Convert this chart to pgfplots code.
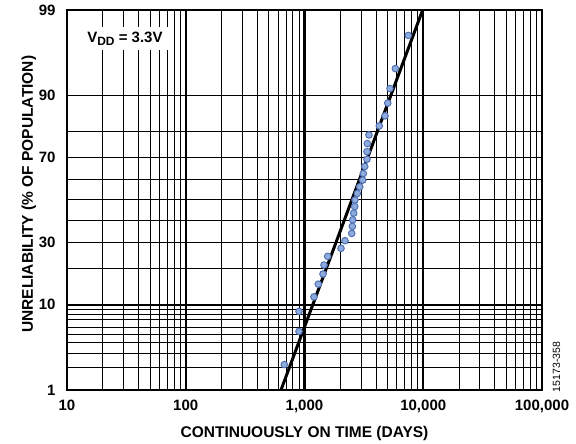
\documentclass[border=0pt]{standalone}
\usepackage{fontspec}
\setmainfont{Liberation Sans}
\usepackage{pgfplots}
\pgfplotsset{compat=1.18}
\usepackage{pgfplotstable}

\definecolor{mkfill}{RGB}{143,170,220}
\definecolor{mkdraw}{RGB}{79,114,180}

% time (days), unreliability (%)
\pgfplotstableread{
t F
676 2.2
899 5.4
899 8.6
1202 11.8
1306 15.0
1432 18.2
1460 21.3
1568 24.5
2029 27.7
2193 30.9
2498 34.1
2527 37.3
2547 40.4
2596 43.6
2648 46.8
2661 50.0
2786 53.2
2917 56.4
3090 59.6
3127 62.7
3214 65.9
3360 69.1
3360 72.3
3380 75.5
3491 78.7
4265 81.8
4764 85.0
5022 88.2
5248 91.4
5821 94.6
7482 97.8
}\datatable

\pgfplotstableread{
t F
634 1
9886 99
}\fittable

\begin{document}
\begin{tikzpicture}
\begin{axis}[
  scale only axis, width=475pt, height=380pt,
  xmode=log, xmin=10, xmax=100000,
  ymin=1, ymax=99,
  y coord trafo/.code={%
    \begingroup
    \pgfkeys{/pgf/fpu=false}%
    \pgfmathsetmacro\pp{#1/100}%
    \pgfmathsetmacro\qq{min(\pp,1-\pp)}%
    \pgfmathsetmacro\tt{sqrt(-2*ln(\qq))}%
    \pgfmathsetmacro\zz{\tt-(2.515517+0.802853*\tt+0.010328*\tt*\tt)/(1+1.432788*\tt+0.189269*\tt*\tt+0.001308*\tt*\tt*\tt)}%
    \pgfmathparse{\pp<0.5 ? -\zz : \zz}%
    \xdef\probitresult{\pgfmathresult}%
    \endgroup
    \let\pgfmathresult\probitresult
  },
  xtick={10,100,1000,10000,100000},
  xticklabels={10,100,{1,000},{10,000},{100,000}},
  ytick={1,10,30,70,90,99},
  yticklabels={1,10,30,70,90,99},
  minor ytick={2,3,4,5,6,7,8,9,20,40,50,60,80},
  grid=both,
  major tick length=0pt, minor tick length=0pt,
  major grid style={black, line width=1pt},
  minor grid style={black, line width=1pt},
  extra x ticks={100,1000,10000},
  extra x tick labels={},
  extra x tick style={grid=major, major grid style={black, line width=2.3pt}},
  extra y ticks={10},
  extra y tick labels={},
  extra y tick style={grid=major, major grid style={black, line width=2pt}},
  axis line style={black, line width=1.3pt},
  tick label style={font=\bfseries\fontsize{15}{18}\selectfont},
  xticklabel style={yshift=-6pt},
  yticklabel style={xshift=-8pt},
  xlabel={CONTINUOUSLY ON TIME (DAYS)},
  ylabel={UNRELIABILITY (\% OF POPULATION)},
  label style={font=\bfseries\fontsize{15.5}{18}\selectfont},
  xlabel style={at={(axis description cs:0.5,-0.1237)}, anchor=base},
  ylabel style={at={(axis description cs:-0.0716,0.515)}, anchor=base, rotate=0},
  clip mode=individual,
]
\addplot[black, line width=3pt] table[x=t, y=F] {\fittable};
\addplot[only marks, mark=*, mark size=3.3pt,
  mark options={fill=mkfill, draw=mkdraw, line width=1pt}]
  table[x=t, y=F] {\datatable};
\node[fill=white, inner sep=5pt, font=\bfseries\fontsize{15}{17}\selectfont]
  at (rel axis cs:0.122,0.925) {V\raisebox{-0.22em}{\fontsize{12}{12}\selectfont DD} = 3.3V};
\end{axis}
\node[rotate=90, anchor=base, font=\fontsize{10.5}{12}\selectfont]
  at ([xshift=18pt, yshift=23pt]current axis.south east) {15173-358};
\pgfresetboundingbox
\path (current axis.south west) ++(-67pt,-54pt) rectangle ++(576pt,444pt);
\end{tikzpicture}
\end{document}
